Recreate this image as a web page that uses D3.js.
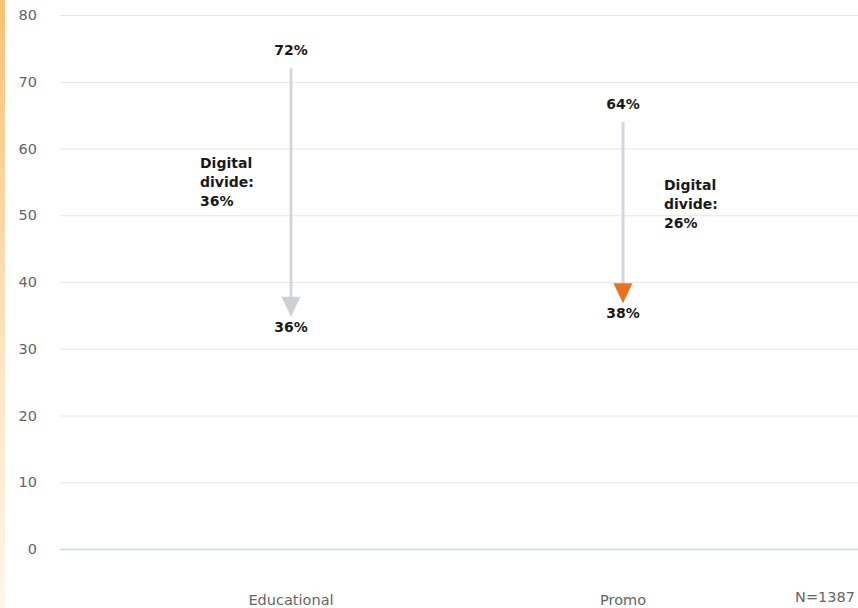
<!DOCTYPE html>
<html><head><meta charset="utf-8">
<script src="https://cdn.jsdelivr.net/npm/d3@7"></script>
<style>body{margin:0;background:#fff}svg{display:block}</style>
</head><body>
<svg id="c" width="858" height="608"></svg>
<script>
const categories = ["Educational", "Promo"];
const startValues = [72, 64];
const endValues = [36, 38];
const divideLabels = ["36%", "26%"];
const headColors = ["#cfd0d6", "#e8721e"];
const yTicks = [0, 10, 20, 30, 40, 50, 60, 70, 80];
const note = "N=1387";

const svg = d3.select("#c");
const font = "'DejaVu Sans', Verdana, sans-serif";

// left decorative strip
const defs = svg.append("defs");
const g0 = defs.append("linearGradient").attr("id","strip").attr("x1",0).attr("y1",0).attr("x2",0).attr("y2",1);
g0.append("stop").attr("offset","0%").attr("stop-color","#fbc174");
g0.append("stop").attr("offset","50%").attr("stop-color","#fde0b8");
g0.append("stop").attr("offset","100%").attr("stop-color","#fff6ec");
svg.append("rect").attr("x",0).attr("y",0).attr("width",5).attr("height",608).attr("fill","url(#strip)");

const y = d3.scaleLinear().domain([0, 80]).range([549, 15]);
const x = d3.scaleBand().domain(categories).range([125, 789]);
const cx = c => x(c) + x.bandwidth() / 2;

// grid
svg.append("g").selectAll("line").data(yTicks.filter(t => t !== 0)).join("line")
  .attr("x1", 60).attr("x2", 858)
  .attr("y1", d => y(d) + 0.5).attr("y2", d => y(d) + 0.5)
  .attr("stroke", "#e6e6e6").attr("stroke-width", 1);
svg.append("line").attr("x1", 60).attr("x2", 858)
  .attr("y1", y(0) + 0.5).attr("y2", y(0) + 0.5)
  .attr("stroke", "#ccd6eb").attr("stroke-width", 1.5);

// y axis labels
svg.append("g").selectAll("text").data(yTicks).join("text")
  .attr("x", 37).attr("y", d => y(d)).attr("dy", "0.35em")
  .attr("text-anchor", "end").attr("fill", "#666")
  .style("font-family", font).style("font-size", "14.5px")
  .text(d => d);

// x axis labels
svg.append("g").selectAll("text").data(categories).join("text")
  .attr("x", d => cx(d)).attr("y", 600).attr("dy", "0.35em")
  .attr("text-anchor", "middle").attr("fill", "#666")
  .style("font-family", font).style("font-size", "14.5px")
  .text(d => d);

const data = categories.map((c, i) => ({c, s: startValues[i], e: endValues[i], div: divideLabels[i], col: headColors[i], i}));

// arrow lines
svg.append("g").selectAll("line").data(data).join("line")
  .attr("x1", d => cx(d.c)).attr("x2", d => cx(d.c))
  .attr("y1", d => y(d.s)).attr("y2", d => y(d.e) - 4)
  .attr("stroke", "#d5d6db").attr("stroke-width", 3);

// arrow heads
svg.append("g").selectAll("path").data(data).join("path")
  .attr("d", d => {
    const X = cx(d.c), Y = y(d.e);
    return `M${X-9.5},${Y-12}L${X+9.5},${Y-12}L${X},${Y+8}Z`;
  })
  .attr("fill", d => d.col);

// value labels
const lab = svg.append("g").style("font-family", font).style("font-size", "14px").style("font-weight", "bold").attr("fill", "#1a1a1a");
lab.selectAll("text.s").data(data).join("text").attr("class","s")
  .attr("x", d => cx(d.c)).attr("y", d => y(d.s) - 13).attr("text-anchor", "middle")
  .text(d => d.s + "%");
lab.selectAll("text.e").data(data).join("text").attr("class","e")
  .attr("x", d => cx(d.c)).attr("y", d => y(d.e) + 23).attr("text-anchor", "middle")
  .text(d => d.e + "%");

// digital divide annotations
const ann = [{x: 200, y: 168}, {x: 664, y: 190}];
data.forEach((d, i) => {
  const t = lab.append("text").attr("x", ann[i].x).attr("y", ann[i].y);
  ["Digital", "divide:", d.div].forEach((s, k) => {
    t.append("tspan").attr("x", ann[i].x).attr("y", ann[i].y + k * 19).text(s);
  });
});

// note
svg.append("text").attr("x", 855).attr("y", 597).attr("dy", "0.35em")
  .attr("text-anchor", "end").attr("fill", "#666")
  .style("font-family", font).style("font-size", "14.5px")
  .text(note);
</script>
</body></html>
